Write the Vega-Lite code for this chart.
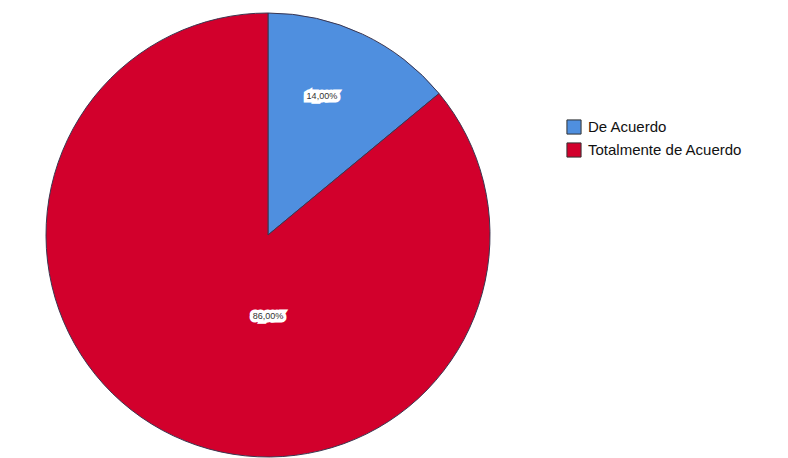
{
  "$schema": "https://vega.github.io/schema/vega-lite/v6.json",
  "width": 536,
  "height": 470,
  "autosize": {"type": "pad"},
  "padding": 0,
  "background": "white",
  "config": {"view": {"stroke": null}, "font": "Liberation Sans"},
  "data": {
    "values": [
      {"categoria": "De Acuerdo", "porcentaje": 14, "etiqueta": "14,00%"},
      {"categoria": "Totalmente de Acuerdo", "porcentaje": 86, "etiqueta": "86,00%"}
    ]
  },
  "encoding": {
    "theta": {"field": "porcentaje", "type": "quantitative", "stack": true},
    "order": {"field": "categoria", "sort": "ascending"}
  },
  "layer": [
    {
      "mark": {"type": "arc", "outerRadius": 222, "stroke": "#3b3650", "strokeWidth": 1},
      "encoding": {
        "color": {
          "field": "categoria",
          "type": "nominal",
          "scale": {"domain": ["De Acuerdo", "Totalmente de Acuerdo"], "range": ["#4f8fdf", "#d2002c"]},
          "legend": {
            "title": null,
            "orient": "none",
            "legendX": 566,
            "legendY": 119,
            "symbolType": "square",
            "symbolSize": 200,
            "symbolStrokeColor": "#333333",
            "symbolStrokeWidth": 1,
            "symbolOpacity": 1,
            "labelFontSize": 15,
            "labelColor": "#111111",
            "labelFont": "Liberation Sans",
            "rowPadding": 3,
            "labelOffset": 6
          }
        }
      }
    },
    {
      "transform": [{"filter": "datum.categoria === 'De Acuerdo'"}],
      "encoding": {"theta": {"value": 0.37}, "text": {"field": "etiqueta"}},
      "layer": [
        {"mark": {"type": "text", "fontSize": 9, "radius": 149, "stroke": "white", "strokeWidth": 7, "strokeJoin": "miter", "color": "white"}},
        {"mark": {"type": "text", "fontSize": 9, "color": "#333333", "radius": 149}}
      ]
    },
    {
      "transform": [{"filter": "datum.categoria === 'Totalmente de Acuerdo'"}],
      "encoding": {"theta": {"value": 3.14159}, "text": {"field": "etiqueta"}},
      "layer": [
        {"mark": {"type": "text", "fontSize": 9, "radius": 81, "stroke": "white", "strokeWidth": 7, "strokeJoin": "miter", "color": "white"}},
        {"mark": {"type": "text", "fontSize": 9, "color": "#333333", "radius": 81}}
      ]
    }
  ]
}
